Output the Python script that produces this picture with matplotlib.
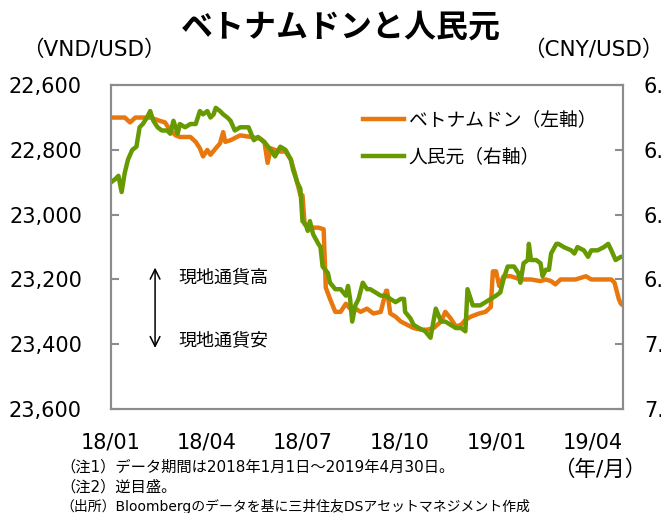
import numpy as np
import matplotlib
matplotlib.use("Agg")
import matplotlib.pyplot as plt
import matplotlib.dates as mdates
from matplotlib.ticker import FuncFormatter

plt.rcParams['font.family'] = ['DejaVu Sans', 'Noto Sans CJK JP']

# Vietnamese dong per USD (left axis, inverted) - days since 2018-01-01
vnd_days = [0, 13, 18, 23, 37, 46, 51, 54, 58, 61, 65, 75, 80, 84, 87, 91, 94, 99,
            103, 106, 108, 113, 122, 132, 141, 145, 148, 151, 155, 160, 165, 170,
            174, 179, 181, 183, 188, 196, 201, 203, 207, 212, 217, 222, 226, 231,
            236, 242, 248, 255, 260, 261, 264, 269, 274, 280, 286, 293, 299, 305,
            312, 316, 321, 326, 331, 335, 340, 348, 354, 359, 361, 364, 367, 368,
            371, 378, 387, 397, 406, 411, 416, 420, 425, 439, 449, 454, 463, 473,
            476, 480, 482, 484]
vnd = [22700, 22700, 22715, 22700, 22700, 22710, 22715, 22730, 22745, 22755,
       22760, 22760, 22775, 22795, 22820, 22800, 22815, 22795, 22780, 22745,
       22775, 22770, 22755, 22760, 22765, 22775, 22840, 22795, 22800, 22805,
       22805, 22830, 22875, 22940, 22940, 23030, 23040, 23040, 23045, 23225,
       23260, 23300, 23300, 23275, 23290, 23290, 23300, 23290, 23305, 23300,
       23235, 23235, 23305, 23315, 23330, 23340, 23350, 23355, 23355, 23350,
       23330, 23300, 23320, 23345, 23340, 23325, 23315, 23305, 23300, 23285,
       23175, 23175, 23220, 23215, 23190, 23190, 23200, 23200, 23205, 23200,
       23205, 23215, 23200, 23200, 23190, 23200, 23200, 23200, 23210, 23260,
       23275, 23280]

# Chinese yuan per USD (right axis, inverted)
cny_days = [0, 4, 7, 10, 13, 16, 20, 24, 27, 30, 34, 37, 40, 44, 48, 53, 56, 59,
            63, 65, 70, 75, 80, 84, 87, 91, 94, 97, 99, 103, 106, 110, 113, 117,
            122, 127, 130, 135, 139, 146, 151, 155, 160, 165, 170, 172, 176, 179,
            181, 184, 186, 188, 191, 196, 198, 200, 205, 207, 212, 217, 222, 224,
            226, 228, 231, 234, 238, 242, 245, 250, 255, 260, 264, 269, 274, 277,
            278, 283, 286, 291, 297, 302, 307, 312, 316, 321, 326, 331, 335, 337,
            342, 349, 354, 359, 364, 368, 371, 375, 381, 385, 387, 390, 394, 395,
            397, 402, 406, 408, 411, 414, 416, 421, 423, 428, 435, 438, 441, 447,
            451, 454, 460, 466, 470, 473, 477, 482, 484]
cny = [6.50, 6.49, 6.48, 6.53, 6.47, 6.43, 6.40, 6.39, 6.33, 6.32, 6.30, 6.28,
       6.31, 6.33, 6.34, 6.34, 6.35, 6.31, 6.35, 6.32, 6.33, 6.32, 6.32, 6.28,
       6.29, 6.28, 6.30, 6.29, 6.27, 6.28, 6.29, 6.30, 6.31, 6.34, 6.33, 6.33,
       6.33, 6.37, 6.36, 6.38, 6.40, 6.42, 6.39, 6.40, 6.43, 6.46, 6.50, 6.52,
       6.62, 6.63, 6.65, 6.62, 6.66, 6.69, 6.70, 6.76, 6.78, 6.81, 6.83, 6.83,
       6.85, 6.82, 6.86, 6.93, 6.88, 6.86, 6.81, 6.83, 6.83, 6.84, 6.85, 6.85,
       6.86, 6.87, 6.86, 6.86, 6.90, 6.92, 6.94, 6.95, 6.96, 6.98, 6.89, 6.93,
       6.93, 6.94, 6.95, 6.95, 6.96, 6.83, 6.88, 6.88, 6.87, 6.86, 6.85, 6.84,
       6.80, 6.76, 6.76, 6.78, 6.81, 6.75, 6.74, 6.69, 6.74, 6.74, 6.75, 6.79,
       6.77, 6.77, 6.72, 6.69, 6.69, 6.70, 6.71, 6.72, 6.70, 6.71, 6.73, 6.71,
       6.71, 6.70, 6.69, 6.71, 6.74, 6.73, 6.73]

start = np.datetime64('2018-01-01')
vnd_dates = start + np.array(vnd_days)
cny_dates = start + np.array(cny_days)

tick_dates = ['2018-01-01', '2018-04-01', '2018-07-01', '2018-10-01',
              '2019-01-01', '2019-04-01']
vnd_ticks = [22600, 22800, 23000, 23200, 23400, 23600]
cny_ticks = [6.2, 6.4, 6.6, 6.8, 7.0, 7.2]

orange = '#E8780E'
green = '#669A00'
gray = '#8C8C8C'

fig = plt.figure(figsize=(6.61, 5.13), dpi=100)
ax = fig.add_axes([0.168, 0.2027, 0.7745, 0.6313])
ax2 = ax.twinx()

l1, = ax.plot(vnd_dates, vnd, color=orange, lw=3.2, solid_joinstyle='round',
              label='ベトナムドン（左軸）')
l2, = ax2.plot(cny_dates, cny, color=green, lw=3.2, solid_joinstyle='round',
               label='人民元（右軸）')

ax.set_xlim(start, np.datetime64('2019-04-30'))
ax.set_ylim(23600, 22600)
ax2.set_ylim(7.2, 6.2)
ax.set_yticks(vnd_ticks)
ax2.set_yticks(cny_ticks)
ax.yaxis.set_major_formatter(FuncFormatter(lambda v, p: f'{int(v):,}'))
ax2.yaxis.set_major_formatter(FuncFormatter(lambda v, p: f'{v:.1f}'))
ax.set_xticks([np.datetime64(d) for d in tick_dates])
ax.xaxis.set_major_formatter(mdates.DateFormatter('%y/%m'))

for a in (ax, ax2):
    for s in a.spines.values():
        s.set_color(gray)
        s.set_linewidth(1.5)
ax.tick_params(axis='y', direction='in', length=6, width=1.5, color=gray,
               labelsize=15, pad=21)
ax2.tick_params(axis='y', direction='in', length=6, width=1.5, color=gray,
                labelsize=15, pad=15)
ax.tick_params(axis='x', length=0, labelsize=15, pad=17)

leg = ax.legend(handles=[l1, l2], loc='upper left', bbox_to_anchor=(0.492, 0.922),
                frameon=False, fontsize=13.5, handlelength=2.2,
                handletextpad=0.25, labelspacing=0.95, borderpad=0,
                borderaxespad=0)

ax.annotate('', xy=(0.086, 0.445), xytext=(0.086, 0.18), xycoords='axes fraction',
            arrowprops=dict(arrowstyle='<->,head_length=0.7,head_width=0.35',
                            lw=1.1, color='black'))
ax.text(0.131, 0.404, '現地通貨高', transform=ax.transAxes, fontsize=13, va='center')
ax.text(0.131, 0.21, '現地通貨安', transform=ax.transAxes, fontsize=13, va='center')

fig.text(0.516, 0.945, 'ベトナムドンと人民元', ha='center', va='center',
         fontsize=23, fontweight='bold')
fig.text(0.034, 0.9025, '（VND/USD）', ha='left', va='center', fontsize=15.5)
fig.text(1.004, 0.9025, '（CNY/USD）', ha='right', va='center', fontsize=15.5)
fig.text(0.908, 0.084, '（年/月）', ha='center', va='center', fontsize=15.5)

fig.text(0.092, 0.0897, '（注1）データ期間は2018年1月1日～2019年4月30日。',
         ha='left', va='center', fontsize=11)
fig.text(0.092, 0.0507, '（注2）逆目盛。', ha='left', va='center', fontsize=11)
fig.text(0.092, 0.0136, '（出所）Bloombergのデータを基に三井住友DSアセットマネジメント作成',
         ha='left', va='center', fontsize=10)

fig.savefig('out.png', dpi=100)
